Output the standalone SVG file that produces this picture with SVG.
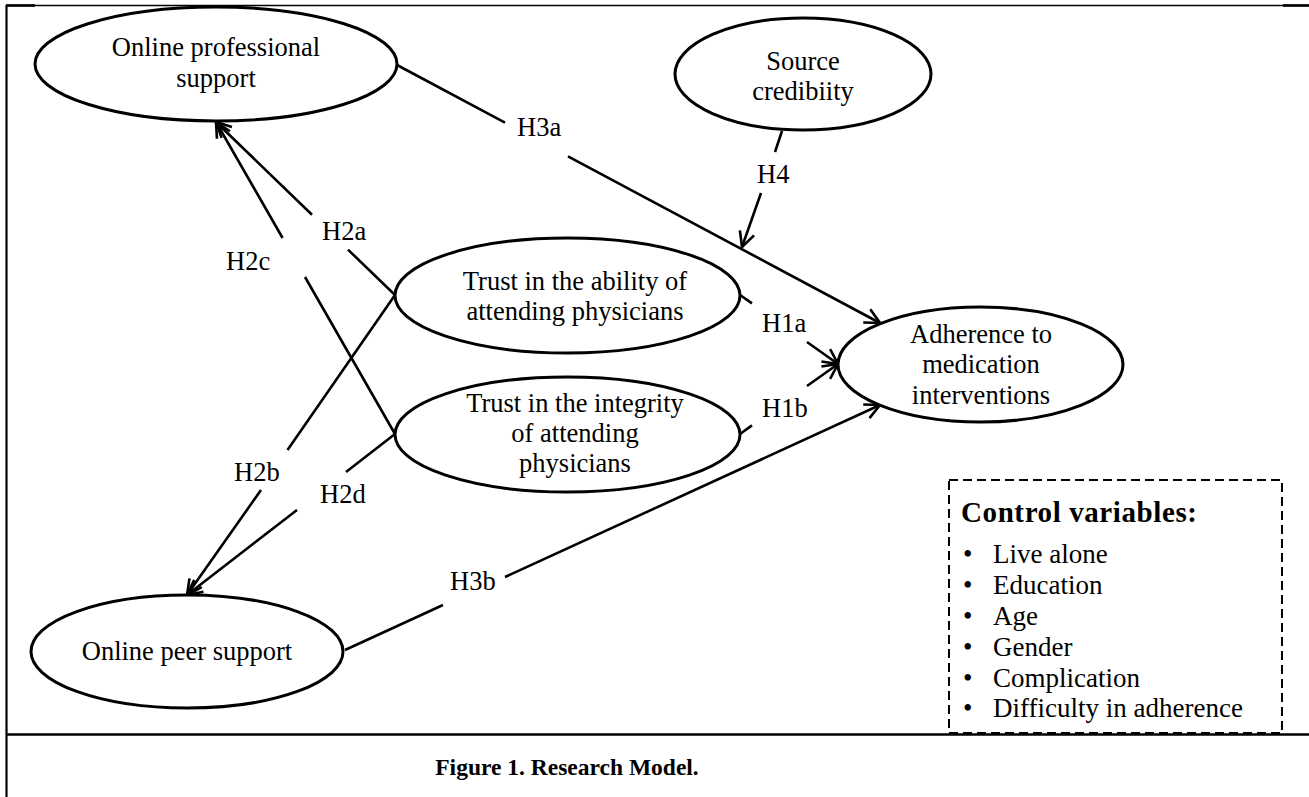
<svg xmlns="http://www.w3.org/2000/svg" width="1309" height="797" viewBox="0 0 1309 797">
  <style>
    .node ellipse { fill: #ffffff; stroke: #000000; stroke-width: 3; }
    .lbl { font-family: "Liberation Serif", "Times New Roman", serif; font-size: 26.5px; fill: #000000; }
    .ctr { text-anchor: middle; }
    .conn { fill: none; stroke: #000000; stroke-width: 2.6; }
    .frame { stroke: #000000; fill: none; }
    .bold { font-weight: bold; }
    .item { font-size: 27px; }
  </style>
  <defs>
    <marker id="arr" markerUnits="userSpaceOnUse" markerWidth="30" markerHeight="30" viewBox="-20 -15 30 30" refX="0" refY="0" orient="auto">
      <path d="M -15,-7.5 L 0,0 L -15,7.5" fill="none" stroke="#000000" stroke-width="2.6" stroke-linejoin="miter"/>
    </marker>
  </defs>

  <rect width="1309" height="797" fill="#ffffff"/>

  <g id="frame">
    <line class="frame" x1="6" y1="5.5" x2="1309" y2="5.5" stroke-width="1.6"/>
    <line class="frame" x1="6" y1="5.5" x2="35" y2="5.5" stroke-width="2.6"/>
    <line class="frame" x1="1283" y1="5.5" x2="1309" y2="5.5" stroke-width="2.6"/>
    <line class="frame" x1="6.5" y1="5" x2="6.5" y2="797" stroke-width="2.2"/>
    <line class="frame" x1="6" y1="734.5" x2="1309" y2="734.5" stroke-width="2.4"/>
  </g>

  <g id="connectors">
    <path id="c-H3a" class="conn" d="M397,65 L505,122.7 M568,156.3 L880,323" marker-end="url(#arr)"/>
    <path id="c-H4" class="conn" d="M782,131 L775,152 M761,193 L742,247" marker-end="url(#arr)"/>
    <path id="c-H2a" class="conn" d="M395,295 L348,249.6 M312,214.7 L216,122" marker-end="url(#arr)"/>
    <path id="c-H2c" class="conn" d="M395,434 L305,277 M282.6,238 L216,122" marker-end="url(#arr)"/>
    <path id="c-H2b" class="conn" d="M395,295 L287.5,450 M261,490 L187,595" marker-end="url(#arr)"/>
    <path id="c-H2d" class="conn" d="M395,434 L346,472 M297,510 L187,595" marker-end="url(#arr)"/>
    <path id="c-H1a" class="conn" d="M740,295 L752,303.4 M807,342 L838,364" marker-end="url(#arr)"/>
    <path id="c-H1b" class="conn" d="M740,434 L752,425.4 M807,386 L838,364" marker-end="url(#arr)"/>
    <path id="c-H3b" class="conn" d="M345,650 L443,605 M505,577 L880,405" marker-end="url(#arr)"/>
  </g>

  <g id="edge-labels">
    <text class="lbl" x="517" y="136">H3a</text>
    <text class="lbl" x="757" y="183">H4</text>
    <text class="lbl" x="322" y="240">H2a</text>
    <text class="lbl" x="226" y="270">H2c</text>
    <text class="lbl" x="234" y="481">H2b</text>
    <text class="lbl" x="320" y="503">H2d</text>
    <text class="lbl" x="762" y="332">H1a</text>
    <text class="lbl" x="762" y="417">H1b</text>
    <text class="lbl" x="450" y="590">H3b</text>
  </g>

  <g id="node-ops" class="node">
    <ellipse cx="216" cy="64" rx="181" ry="57"/>
    <text class="lbl ctr" x="216" y="56">Online professional</text>
    <text class="lbl ctr" x="216" y="87">support</text>
  </g>

  <g id="node-source" class="node">
    <ellipse cx="803" cy="74" rx="128" ry="56"/>
    <text class="lbl ctr" x="803" y="70">Source</text>
    <text class="lbl ctr" x="803" y="100">credibiity</text>
  </g>

  <g id="node-ability" class="node">
    <ellipse cx="567.5" cy="295.5" rx="172.5" ry="57.5"/>
    <text class="lbl ctr" x="575" y="290">Trust in the ability of</text>
    <text class="lbl ctr" x="575" y="320">attending physicians</text>
  </g>

  <g id="node-integrity" class="node">
    <ellipse cx="567.5" cy="434.5" rx="172.5" ry="57.5"/>
    <text class="lbl ctr" x="575" y="412">Trust in the integrity</text>
    <text class="lbl ctr" x="575" y="442">of attending</text>
    <text class="lbl ctr" x="575" y="472">physicians</text>
  </g>

  <g id="node-adherence" class="node">
    <ellipse cx="980.5" cy="364.5" rx="142.5" ry="57.5"/>
    <text class="lbl ctr" x="981" y="343">Adherence to</text>
    <text class="lbl ctr" x="981" y="373">medication</text>
    <text class="lbl ctr" x="981" y="404">interventions</text>
  </g>

  <g id="node-ops-peer" class="node">
    <ellipse cx="187" cy="651.5" rx="156" ry="56.5"/>
    <text class="lbl ctr" x="187" y="660">Online peer support</text>
  </g>

  <g id="control-variables">
    <rect x="949" y="480" width="333" height="253" fill="none" stroke="#000000" stroke-width="2" stroke-dasharray="9,5"/>
    <text class="lbl bold" x="961" y="522" style="font-size:29px" textLength="236" lengthAdjust="spacing">Control variables:</text>
    <g class="lbl item">
      <text x="963" y="563">•</text><text x="993" y="563">Live alone</text>
      <text x="963" y="594">•</text><text x="993" y="594">Education</text>
      <text x="963" y="625">•</text><text x="993" y="625">Age</text>
      <text x="963" y="656">•</text><text x="993" y="656">Gender</text>
      <text x="963" y="687">•</text><text x="993" y="687">Complication</text>
      <text x="963" y="717">•</text><text x="993" y="717">Difficulty in adherence</text>
    </g>
  </g>

  <g id="caption">
    <text class="lbl ctr bold" x="567" y="775" style="font-size:23.5px">Figure 1. Research Model.</text>
  </g>
</svg>
